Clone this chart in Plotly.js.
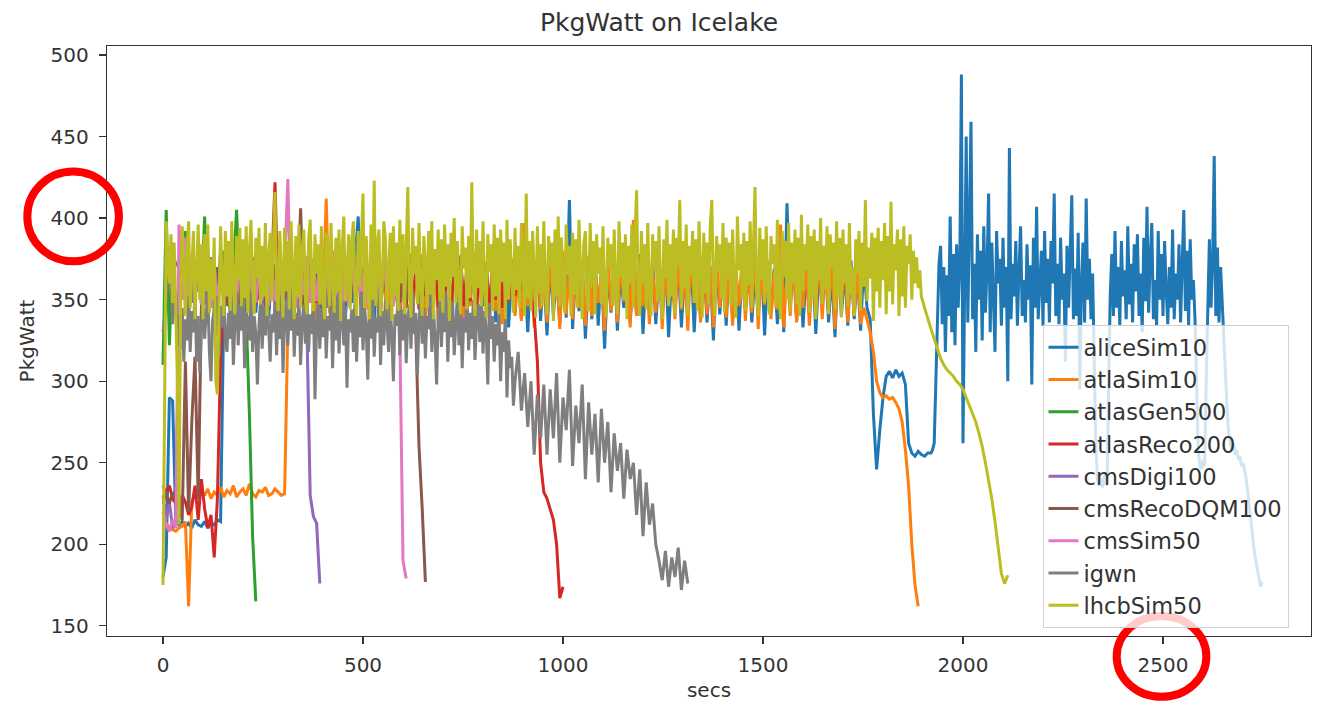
<!DOCTYPE html>
<html>
<head>
<meta charset="utf-8">
<script src="https://cdn.plot.ly/plotly-3.0.1.min.js"></script>
<style>html,body{margin:0;padding:0;background:#fff;}#chart{width:1318px;height:702px;}</style>
</head>
<body>
<div id="chart"></div>
<script>
var seriesNames = ["aliceSim10","atlaSim10","atlasGen500","atlasReco200","cmsDigi100","cmsRecoDQM100","cmsSim50","igwn","lhcbSim50"];
var seriesColors = ["#1f77b4","#ff7f0e","#2ca02c","#d62728","#9467bd","#8c564b","#e377c2","#7f7f7f","#bcbd22"];

// aliceSim10: 8 s samples from 0 s, then 4 s samples from 1920 s
var aliceSim10_a = [
180,192,290,288,215,212,214,211,213,210,215,212,211,214,210,213,212,215,214,345,
372,340,378,350,373,337,370,346,376,342,368,352,379,339,366,348,374,344,369,355,
371,338,377,347,366,341,375,350,367,336,380,345,369,340,372,353,376,339,368,348,
374,401,343,370,351,377,338,368,346,375,340,366,355,379,337,371,347,374,342,369,
350,376,339,369,345,378,341,366,352,373,336,370,348,377,343,367,351,375,338,372,
346,368,340,376,336,371,349,374,333,367,342,378,338,366,330,372,344,375,337,369,
328,373,341,367,335,377,339,411,332,370,343,374,326,366,338,376,334,370,320,368,
342,375,331,368,345,373,336,366,340,378,329,370,344,374,335,367,338,376,327,369,
343,373,333,367,346,377,330,370,339,374,336,368,325,375,341,369,334,376,338,368,
331,372,344,375,336,367,340,378,328,370,342,369,335,373,330,409,345,374,337,370,
333,368,341,376,329,370,345,373,336,367,327,375,340,369,334,374,338,367,331,372,
345,338,280,246,270,290,303,306,302,307,303,305,298,262,256,254,257,255,254,256];
var aliceSim10_b = [
256,258,262,300,345,372,383,335,370,318,365,340,401,330,378,322,384,345,372,488,262,380,450,336,392,
459,338,372,318,390,350,380,325,395,342,368,415,330,385,348,318,392,360,375,334,388,345,370,300,443,
338,372,352,386,334,368,395,340,362,336,384,350,371,298,388,345,407,338,365,380,334,392,348,375,336,
386,360,415,340,372,335,388,350,366,312,383,345,378,414,338,369,340,391,295,360,385,336,412,350,375,
338,366,300,262,240,236,241,235,238,244,236,290,352,378,340,392,345,370,334,386,352,368,338,395,347,
372,336,384,355,390,340,366,330,388,349,407,342,375,397,338,362,334,392,350,378,340,386,356,335,370,
345,393,338,366,350,384,336,372,405,343,380,334,387,350,362,338,300,258,248,246,252,248,300,350,387,
345,372,438,340,382,336,370,345,330,305,285,268,262,258,262,255,258,252,254,248,250,245,240,232,222,
212,205,196,190,184,178,174,177];

// atlaSim10: 8 s samples from 0 s
var atlaSim10 = [
216,213,210,209,208,210,211,214,162,226,231,229,233,230,234,228,232,230,235,229,
233,231,236,229,232,234,230,237,231,229,233,232,235,230,231,234,232,230,231,332,
345,372,352,378,340,366,357,375,339,370,348,412,342,380,351,369,337,376,346,365,
353,379,338,371,344,377,350,368,341,374,336,369,349,381,343,367,355,373,340,370,
347,378,339,366,352,375,336,371,345,383,341,368,350,376,337,370,346,379,342,367,
354,373,338,369,343,378,335,371,349,375,340,366,337,397,346,370,333,374,344,368,
336,376,347,367,332,380,341,370,338,375,345,368,334,377,340,372,348,366,331,376,
343,369,336,375,349,367,333,399,340,370,346,374,335,368,342,379,332,371,347,366,
338,376,344,369,331,378,348,368,336,375,341,371,333,380,345,367,339,374,334,370,
346,377,337,368,342,381,332,371,347,374,338,367,344,396,333,370,340,376,336,369,
345,372,334,368,341,380,338,370,343,375,332,367,347,377,336,371,340,369,335,345,
338,330,318,300,293,290,291,289,290,287,283,275,258,236,200,175,162];

// atlasGen500: 8 s samples from 0 s
var atlasGen500 = [
310,405,322,378,372,370,350,392,345,375,356,368,348,401,352,374,343,370,360,380,
349,372,368,405,352,370,340,280,205,165];

// atlasReco200: 8 s samples from 0 s
var atlasReco200 = [
225,232,236,228,225,222,230,226,218,223,236,215,240,222,210,218,192,228,315,350,
375,348,370,352,378,345,368,355,373,347,369,350,376,346,371,422,349,367,353,374,
347,372,350,368,345,375,353,369,348,377,346,366,352,371,344,370,349,374,347,368,
354,367,346,376,350,370,347,373,344,369,352,375,348,366,351,371,345,378,350,367,
344,372,352,368,349,379,345,370,350,373,347,367,353,375,346,371,349,377,347,369,
351,372,346,367,350,376,345,370,349,373,352,368,355,372,357,355,340,312,250,232,
228,222,215,200,167,174];

// cmsDigi100: 8 s samples from 0 s
var cmsDigi100 = [
230,215,226,210,212,345,372,350,378,348,369,355,376,347,370,349,367,352,380,346,
373,348,377,345,368,356,375,347,370,351,379,346,371,350,374,347,368,353,372,349,
369,350,375,347,371,330,230,217,213,176];

// cmsRecoDQM100: 8 s samples from 0 s
var cmsRecoDQM100 = [
236,230,225,232,228,222,215,312,220,275,315,228,345,372,350,376,347,369,355,374,
346,371,349,378,345,368,356,373,347,370,350,377,346,367,353,372,345,370,349,375,
347,369,352,406,346,373,349,368,357,374,345,370,349,377,346,369,351,372,347,368,
350,375,346,371,354,368,347,377,349,367,352,373,346,370,348,374,350,368,340,330,
260,222,177];

// cmsSim50: 8 s samples from 0 s
var cmsSim50 = [
220,212,208,215,210,396,350,388,341,378,356,370,347,375,383,345,372,348,369,352,
376,347,370,349,377,345,367,355,374,348,369,350,379,346,371,349,375,347,368,424,
347,373,345,369,353,377,348,371,349,375,346,368,351,379,347,370,348,376,346,369,
355,374,349,371,347,378,349,367,348,375,352,369,346,373,330,190,179];

// igwn: 4 s samples from 0 s, then 8 s samples from 880 s
var igwn_a = [
330,338,352,372,380,361,335,348,355,322,341,320,345,312,338,325,352,318,343,330,356,312,340,305,335,
348,326,341,355,318,300,337,344,328,352,315,346,333,358,324,318,342,326,350,310,338,355,322,347,331,
352,308,343,336,325,356,318,340,329,298,335,350,320,346,328,355,337,312,341,330,349,316,344,326,353,
305,338,350,322,345,331,357,315,342,328,351,310,337,347,323,354,318,341,329,352,289,336,348,320,345,
327,356,314,340,331,350,308,343,325,353,317,339,349,322,346,296,338,330,344,318,352,312,340,327,355,
319,345,333,301,348,326,354,315,339,330,357,310,343,322,350,336,318,347,329,300,341,334,355,316,344,
325,352,311,338,347,320,356,329,342,304,336,351,323,345,314,340,332,353,318,346,327,298,339,350,321,
344,330,355,312,341,327,349,316,337,353,322,345,308,339,330,356,319,342,326,350,313,338,347,324,352,
317,343,331,298,348,326,340,312,335,322,345,300,330,318,340,290,325,308,315,285];
var igwn_b = [
300,318,282,305,272,300,255,292,265,298,
255,295,265,305,250,290,270,307,248,285,262,298,240,287,255,280,238,283,250,275,
232,268,245,262,228,258,240,250,218,246,205,238,212,225,200,190,178,196,174,192,
180,198,172,190,176];

// lhcbSim50: 4 s samples from 0 s, then 8 s samples from 1904 s
var lhcbSim50_a = [
175,305,398,372,360,390,348,385,330,300,212,350,395,362,340,380,398,345,366,392,338,371,396,350,384,
338,390,355,396,342,375,350,388,300,292,345,395,360,340,392,352,386,343,398,357,341,389,362,394,346,
387,351,395,342,380,399,356,341,388,363,394,347,383,352,397,340,376,391,349,385,416,357,343,392,366,
339,394,355,386,344,398,361,338,389,352,396,345,381,393,350,341,387,399,358,343,390,366,384,347,395,
352,338,391,384,346,397,360,342,388,355,393,337,382,401,349,363,390,344,386,398,351,340,392,358,385,
415,345,389,362,338,396,350,423,346,384,393,340,357,398,388,344,366,391,337,395,352,385,343,399,360,
390,341,386,419,353,339,394,366,383,347,397,356,340,389,372,345,392,353,398,338,381,362,393,349,387,
342,396,358,384,337,391,364,400,348,386,355,341,395,369,382,344,389,351,422,360,340,393,357,386,346,
398,355,339,390,367,384,343,396,352,388,341,393,361,385,338,399,350,387,364,342,394,356,383,345,397,
360,340,415,351,386,343,392,367,339,395,354,384,346,398,358,341,389,370,385,337,393,352,401,346,388,
357,342,396,365,383,340,391,353,387,345,399,362,338,384,392,350,343,397,359,386,341,390,366,382,347,
395,352,339,388,370,384,346,393,357,341,398,364,385,350,390,338,383,360,396,345,389,417,352,340,392,
361,384,344,397,355,340,390,368,386,349,395,356,338,387,363,399,346,384,352,393,341,388,370,411,345,
386,357,396,340,383,365,392,348,387,343,398,361,339,391,354,385,347,394,411,358,340,389,367,384,351,
397,342,388,363,385,346,393,356,339,401,368,384,350,391,343,386,359,398,345,383,419,355,340,394,362,
387,348,395,357,341,389,372,384,345,399,353,338,392,364,386,350,397,343,385,360,393,347,388,340,402,
355,384,368,396,342,389,351,393,338,386,362,400,347,383,356,395,341,390,370,385,344,398,352,388,339,
393,360,384,346,397,353,370,340,387,366,392,343,385,358,411,349,382,363,391,337,388,355,394,345,386,
362,397,341,389,355,410,347,384,368,393,340,387,352,395,345,383,372,390,350,380,360,376,357,368,352];
var lhcbSim50_b = [
345,338,332,326,320,314,310,307,305,303,300,298,295,290,286,281,275,268,260,250,240,228,214,196,182,176,181];

// sampling schedule per series: [start secs, secs per sample, values]
var sampling = [
  [[0, 8, aliceSim10_a], [1920, 4, aliceSim10_b]],
  [[0, 8, atlaSim10]],
  [[0, 8, atlasGen500]],
  [[0, 8, atlasReco200]],
  [[0, 8, cmsDigi100]],
  [[0, 8, cmsRecoDQM100]],
  [[0, 8, cmsSim50]],
  [[0, 4, igwn_a], [880, 8, igwn_b]],
  [[0, 4, lhcbSim50_a], [1904, 8, lhcbSim50_b]]
];

var xTicks = [0,500,1000,1500,2000,2500];
var yTicks = [150,200,250,300,350,400,450,500];

var FONT = "DejaVu Sans, Liberation Sans, sans-serif";

var traces = seriesNames.map(function(n, k){
  var xs = [], ys = [];
  sampling[k].forEach(function(seg){
    for (var i = 0; i < seg[2].length; i++){ xs.push(seg[0] + i*seg[1]); ys.push(seg[2][i]); }
  });
  return {
    type: "scatter", mode: "lines", name: n, x: xs, y: ys,
    line: {color: seriesColors[k], width: 3},
    legendgroup: n, hoverinfo: "skip"
  };
});

var axisCommon = {
  showline: true, mirror: true, linecolor: "#333", linewidth: 1.2,
  ticks: "outside", ticklen: 7, tickwidth: 1.2, tickcolor: "#333",
  showgrid: false, zeroline: false,
  tickfont: {family: FONT, size: 20, color: "#333"}
};

var layout = {
  width: 1318, height: 702,
  paper_bgcolor: "#fff", plot_bgcolor: "#fff",
  margin: {l: 107, r: 7, t: 46, b: 66},
  font: {family: FONT, color: "#333"},
  title: {text: "PkgWatt on Icelake", font: {family: FONT, size: 25, color: "#333"}, x: 0.5, xanchor: "center", y: 0.968, yanchor: "middle", yref: "container"},
  xaxis: Object.assign({}, axisCommon, {
    range: [-140, 2870], tickmode: "array", tickvals: xTicks, ticktext: xTicks.map(String),
    ticklabelstandoff: 4,
    title: {text: "secs", font: {family: FONT, size: 20, color: "#333"}, standoff: 8}
  }),
  yaxis: Object.assign({}, axisCommon, {
    range: [143.8, 505.5], tickmode: "array", tickvals: yTicks, ticktext: yTicks.map(String),
    ticklabelstandoff: 6,
    title: {text: "PkgWatt", font: {family: FONT, size: 20, color: "#333"}, standoff: 10}
  }),
  showlegend: true,
  legend: {
    x: 0.777, y: 0.527, xanchor: "left", yanchor: "top",
    bgcolor: "rgba(255,255,255,0.8)", bordercolor: "#d0d0d0", borderwidth: 1,
    font: {family: FONT, size: 22.5, color: "#333"},
    traceorder: "grouped", tracegroupgap: 0
  },
  shapes: [
    {type: "circle", xref: "paper", yref: "paper", x0: -0.0662, x1: 0.0099, y0: 0.6351, y1: 0.7872,
     line: {color: "#ff0000", width: 8}, layer: "above"},
    {type: "circle", xref: "paper", yref: "paper", x0: 0.8386, x1: 0.9131, y0: -0.1030, y1: 0.0338,
     line: {color: "#ff0000", width: 8}, layer: "above"}
  ]
};

Plotly.newPlot("chart", traces, layout, {staticPlot: true, displayModeBar: false});
</script>
</body>
</html>
